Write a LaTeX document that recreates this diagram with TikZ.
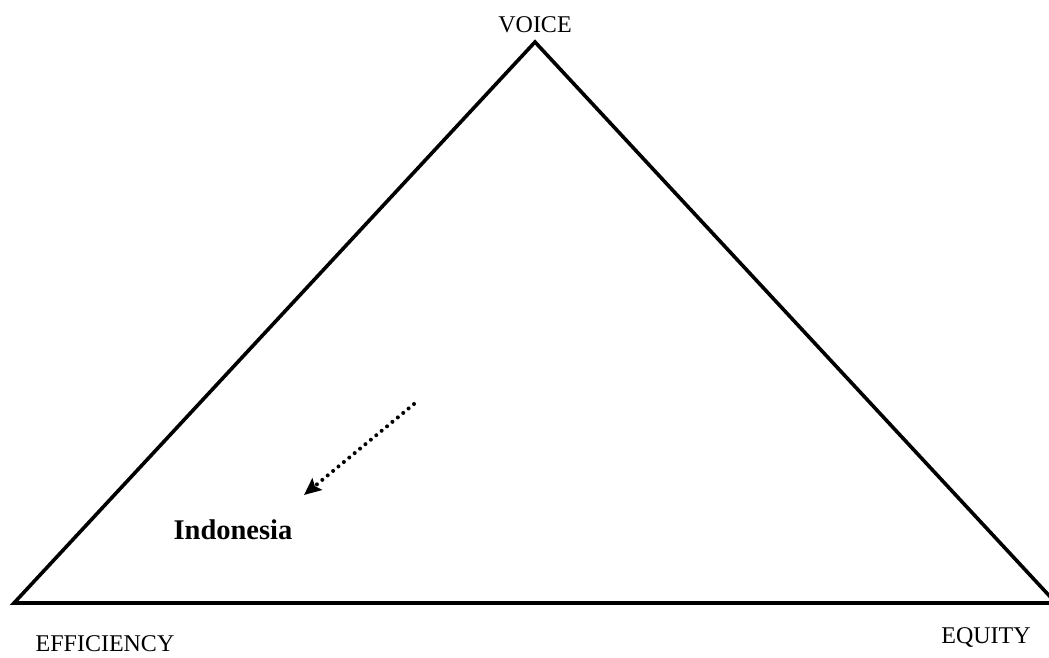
\documentclass[tikz,border=0pt]{standalone}
\usepackage{fontspec}
\setmainfont{Liberation Serif}
\usetikzlibrary{arrows.meta}
\begin{document}
\begin{tikzpicture}[x=1pt,y=-1pt,
  edge/.style={line width=3.6pt, line join=miter},
  lbl/.style={font=\fontsize{24}{28}\selectfont, inner sep=0pt},
  dotarrow/.style={line width=4pt, line cap=round, dash pattern=on 0pt off 7pt,
    -{Stealth[length=17pt,width=15pt,inset=3pt]}}]
\useasboundingbox (0,0) rectangle (1049,657);
\clip (0,0) rectangle (1049,657);
\coordinate (top) at (535,42);
\coordinate (left) at (14,603);
\coordinate (right) at (1056,603);
\draw[edge] (left) -- (top) -- (right) -- cycle;
\node[lbl] (voice) at (535,25) {VOICE};
\node[lbl] (eff) at (105,644) {EFFICIENCY};
\node[lbl] (equ) at (986,637) {EQUITY};
\node[inner sep=0pt, font=\fontsize{28.5}{32}\selectfont\bfseries] (indo) at (233,530) {Indonesia};
\coordinate (a1) at (414,404);
\coordinate (a2) at (304,495);
\draw[dotarrow] (a1) -- (a2);
\end{tikzpicture}
\end{document}
